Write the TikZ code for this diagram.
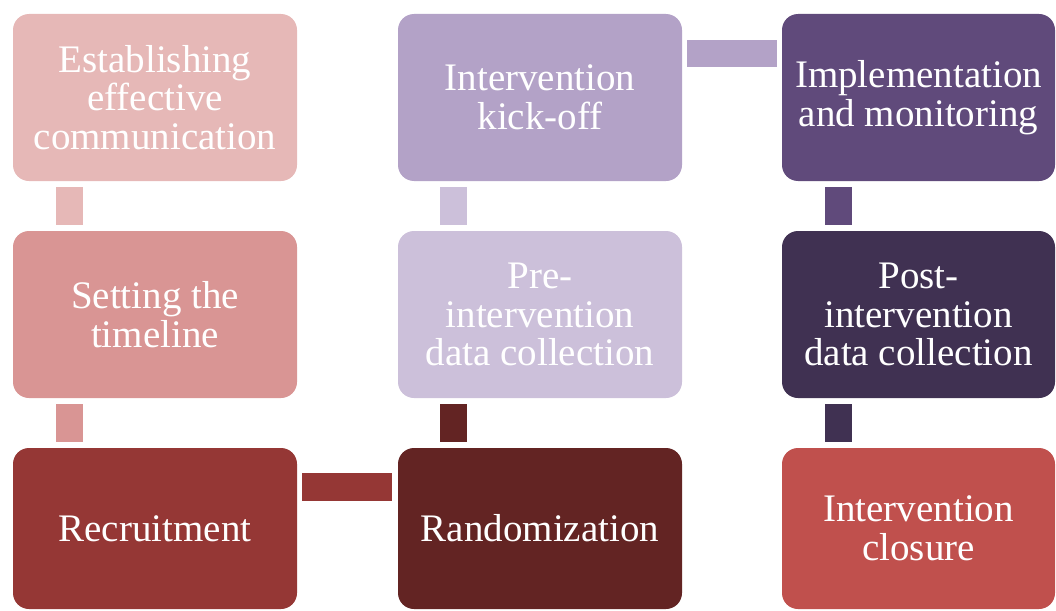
\documentclass[tikz,border=0pt]{standalone}
\usepackage{fontspec}
\setmainfont{Liberation Serif}
\usetikzlibrary{calc}
\definecolor{rosaClaro}{HTML}{E6B8B7}
\definecolor{rosaMedio}{HTML}{D99594}
\definecolor{rojoLadrillo}{HTML}{953735}
\definecolor{granate}{HTML}{632423}
\definecolor{lilaClaro}{HTML}{CCC0DA}
\definecolor{lilaMedio}{HTML}{B3A2C7}
\definecolor{morado}{HTML}{604A7B}
\definecolor{moradoOscuro}{HTML}{403152}
\definecolor{rojoCierre}{HTML}{C0504D}
\begin{document}
\begin{tikzpicture}[x=1pt, y=-1pt,
    etapa/.style={rectangle, rounded corners=16pt, minimum width=284pt, minimum height=167pt,
      inner sep=0pt, align=center, text=white, font=\fontsize{39}{38.5}\selectfont}]
          \useasboundingbox (0,0) rectangle (1056,610);
          \begin{scope}
          \clip (0,0) rectangle (1056,610);
          % Columna 1
          \node[etapa, fill=rosaClaro] (comunic) at (155,97.5) {Establishing\\effective\\communication};
          \node[etapa, fill=rosaMedio] (calend) at (155,314.5) {Setting the\\timeline};
          \node[etapa, fill=rojoLadrillo, minimum height=161pt] (reclut) at (155,528.5) {Recruitment};
          % Columna 2
          \node[etapa, fill=granate, minimum height=161pt] (aleat) at (540,528.5) {Randomization};
          \node[etapa, fill=lilaClaro] (preint) at (540,314.5) {Pre-\\intervention\\data collection};
          \node[etapa, fill=lilaMedio] (inicio) at (540,97.5) {Intervention\\kick-off};
          % Columna 3
          \node[etapa, fill=morado, minimum width=273pt] (implem) at (918.5,97.5) {Implementation\\and monitoring};
          \node[etapa, fill=moradoOscuro, minimum width=273pt] (postint) at (918.5,314.5) {Post-\\intervention\\data collection};
          \node[etapa, fill=rojoCierre, minimum width=273pt, minimum height=161pt] (cierre) at (918.5,528.5) {Intervention\\closure};
          % Conectores verticales
          \fill[rosaClaro] ($(comunic.south west)+(43,6)$) rectangle ($(calend.north west)+(70,-6)$);
          \fill[rosaMedio] ($(calend.south west)+(43,6)$) rectangle ($(reclut.north west)+(70,-6)$);
          \fill[granate] ($(aleat.north west)+(42,-6)$) rectangle ($(preint.south west)+(69,6)$);
          \fill[lilaClaro] ($(preint.north west)+(42,-6)$) rectangle ($(inicio.south west)+(69,6)$);
          \fill[morado] ($(implem.south west)+(43,6)$) rectangle ($(postint.north west)+(70,-6)$);
          \fill[moradoOscuro] ($(postint.south west)+(43,6)$) rectangle ($(cierre.north west)+(70,-6)$);
          % Conectores horizontales
          \fill[rojoLadrillo] ($(reclut.north east)+(5,25)$) rectangle ($(aleat.north west)+(-6,53)$);
          \fill[lilaMedio] ($(inicio.north east)+(5,26)$) rectangle ($(implem.north west)+(-5,53)$);
          \end{scope}
        \end{tikzpicture}
\end{document}
